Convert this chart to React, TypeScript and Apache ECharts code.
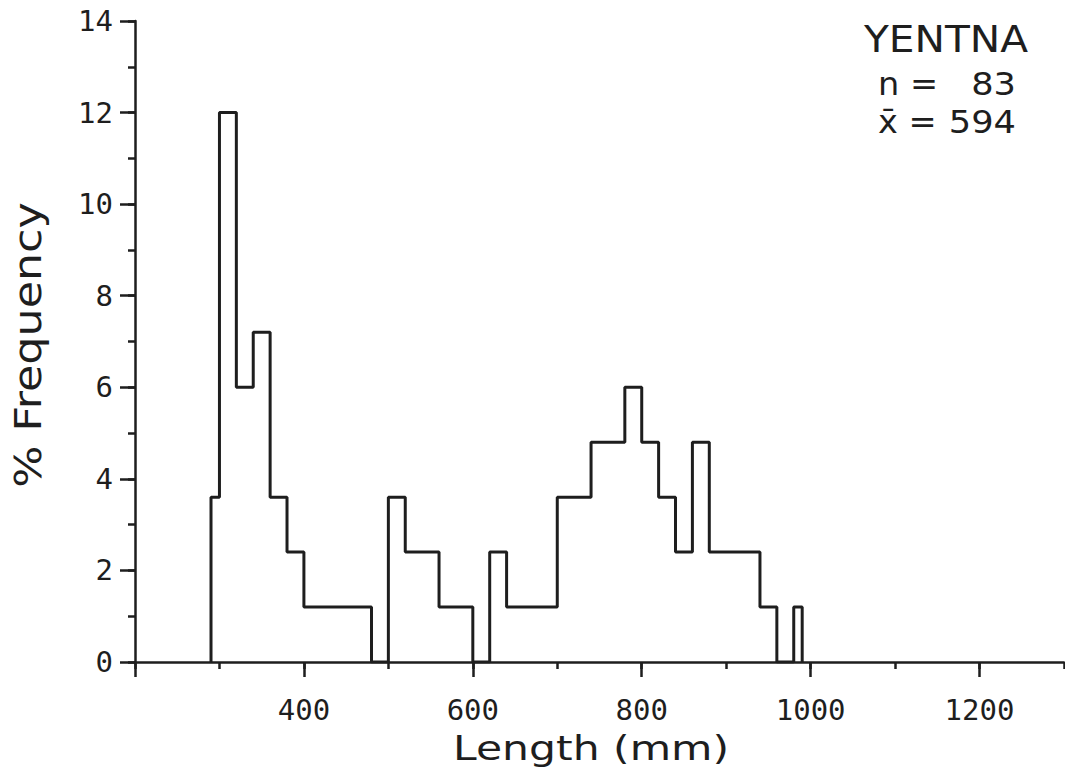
import React, { useEffect, useRef } from "react";
import * as echarts from "echarts";

// Histogram bins (start of each bin, mm) and % frequency
const binStarts = [290, 300, 320, 340, 360, 380, 400, 420, 440, 460, 480, 500, 520, 540, 560, 580, 600, 620, 640, 660, 680, 700, 720, 740, 760, 780, 800, 820, 840, 860, 880, 900, 920, 940, 960, 980];
const binPct = [3.6, 12.0, 6.0, 7.2, 3.6, 2.4, 1.2, 1.2, 1.2, 1.2, 0, 3.6, 2.4, 2.4, 1.2, 1.2, 0, 2.4, 1.2, 1.2, 1.2, 3.6, 3.6, 4.8, 4.8, 6.0, 4.8, 3.6, 2.4, 4.8, 2.4, 2.4, 2.4, 1.2, 0, 1.2];
const lastEdge = 990;

const xMajorTicks = [200, 400, 600, 800, 1000, 1200];
const xTickLabels = [400, 600, 800, 1000, 1200];
const yTickLabels = [0, 2, 4, 6, 8, 10, 12, 14];

const siteName = "YENTNA";
const sampleSize = "83";
const meanLength = "594";

const INK = "#1e1e1e";

export default function App() {
  const ref = useRef<HTMLDivElement>(null);

  useEffect(() => {
    if (!ref.current) return;
    const chart = echarts.init(ref.current, null, { renderer: "svg" });

    const stepData: number[][] = [[binStarts[0], 0]];
    binStarts.forEach((x, i) => stepData.push([x, binPct[i]]));
    stepData.push([lastEdge, 0]);

    const lineStyle = { color: INK, width: 2.5 };
    const tickFont = {
      fontFamily: "DejaVu Sans Mono",
      fontSize: 29,
      color: INK,
    };
    const plain = (v: number) => String(v);

    const annot = (text: string, x: number, y: number, size: number, align: string, scaleX = 1) => ({
      type: "text",
      x,
      y,
      scaleX,
      style: {
        text,
        font: `normal ${size}px 'DejaVu Sans'`,
        fill: INK,
        align,
        verticalAlign: "middle",
        lineHeight: size,
      },
    });

    chart.setOption({
      animation: false,
      backgroundColor: "#ffffff",
      grid: { left: 135, right: 1, top: 21, bottom: 105, containLabel: false },
      xAxis: [
        {
          type: "value",
          min: 200,
          max: 1300,
          interval: 100,
          position: "bottom",
          axisLine: { show: true, lineStyle },
          axisTick: { show: true, length: 7, lineStyle },
          axisLabel: { show: false },
          splitLine: { show: false },
        },
        {
          type: "value",
          min: 200,
          max: 1300,
          position: "bottom",
          axisLine: { show: false },
          axisTick: { show: true, length: 15, lineStyle, customValues: xMajorTicks },
          axisLabel: { show: true, margin: 33, customValues: xTickLabels, formatter: plain, ...tickFont },
          splitLine: { show: false },
        },
      ],
      yAxis: [
        {
          type: "value",
          min: 0,
          max: 14,
          interval: 1,
          position: "left",
          axisLine: { show: true, lineStyle },
          axisTick: { show: true, length: 7, lineStyle },
          axisLabel: { show: false },
          splitLine: { show: false },
        },
        {
          type: "value",
          min: 0,
          max: 14,
          position: "left",
          axisLine: { show: false },
          axisTick: { show: true, length: 15, lineStyle, customValues: yTickLabels },
          axisLabel: { show: true, margin: 22, customValues: yTickLabels, formatter: plain, ...tickFont },
          splitLine: { show: false },
        },
      ],
      series: [
        {
          type: "line",
          xAxisIndex: 0,
          yAxisIndex: 0,
          step: "end",
          showSymbol: false,
          symbol: "none",
          lineStyle: { color: INK, width: 3 },
          data: stepData,
        },
      ],
      graphic: [
        {
          type: "text",
          x: 591,
          y: 748,
          scaleX: 1.25,
          style: {
            text: "Length (mm)",
            font: "normal 34px 'DejaVu Sans'",
            fill: INK,
            align: "center",
            verticalAlign: "middle",
          },
        },
        {
          type: "text",
          x: 28,
          y: 345,
          rotation: Math.PI / 2,
          scaleX: 1.2,
          style: {
            text: "% Frequency",
            font: "normal 37px 'DejaVu Sans'",
            fill: INK,
            align: "center",
            verticalAlign: "middle",
          },
        },
        annot(siteName, 946, 39, 37, "center", 1.1),
        annot("n =", 878, 84, 32, "left", 1.05),
        annot(sampleSize, 1016, 84, 32, "right", 1.1),
        annot("x\u0304 =", 878, 122, 32, "left", 1.05),
        annot(meanLength, 1016, 122, 32, "right", 1.1),
      ],
    });

    return () => chart.dispose();
  }, []);

  return (
    <div
      ref={ref}
      style={{ position: "fixed", left: 0, top: 0, width: 1065, height: 767 }}
    />
  );
}
